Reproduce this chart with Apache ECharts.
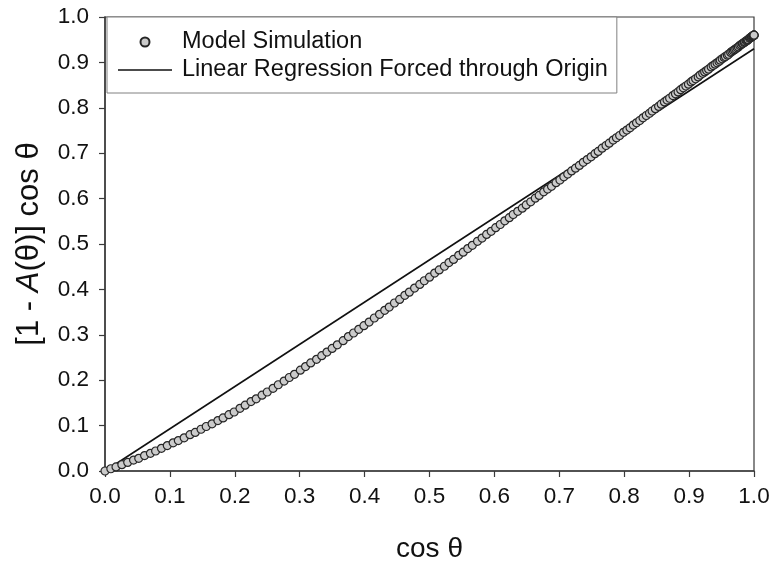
<!DOCTYPE html>
<html>
<head>
<meta charset="utf-8">
<script src="https://cdn.jsdelivr.net/npm/echarts@6/dist/echarts.min.js"></script>
<style>
  html, body { margin: 0; padding: 0; background: #fff; }
  #chart { width: 770px; height: 562px; }
</style>
</head>
<body>
<div id="chart"></div>
<script>
// cos θ for each simulated incidence angle (0.5° steps)
const cosTheta = [
  0.000, 0.009, 0.017, 0.026, 0.035, 0.044, 0.052, 0.061, 0.070, 0.078,
  0.087, 0.096, 0.105, 0.113, 0.122, 0.131, 0.139, 0.148, 0.156, 0.165,
  0.174, 0.182, 0.191, 0.199, 0.208, 0.216, 0.225, 0.233, 0.242, 0.250,
  0.259, 0.267, 0.276, 0.284, 0.292, 0.301, 0.309, 0.317, 0.326, 0.334,
  0.342, 0.350, 0.358, 0.367, 0.375, 0.383, 0.391, 0.399, 0.407, 0.415,
  0.423, 0.431, 0.438, 0.446, 0.454, 0.462, 0.469, 0.477, 0.485, 0.492,
  0.500, 0.508, 0.515, 0.523, 0.530, 0.537, 0.545, 0.552, 0.559, 0.566,
  0.574, 0.581, 0.588, 0.595, 0.602, 0.609, 0.616, 0.623, 0.629, 0.636,
  0.643, 0.649, 0.656, 0.663, 0.669, 0.676, 0.682, 0.688, 0.695, 0.701,
  0.707, 0.713, 0.719, 0.725, 0.731, 0.737, 0.743, 0.749, 0.755, 0.760,
  0.766, 0.772, 0.777, 0.783, 0.788, 0.793, 0.799, 0.804, 0.809, 0.814,
  0.819, 0.824, 0.829, 0.834, 0.839, 0.843, 0.848, 0.853, 0.857, 0.862,
  0.866, 0.870, 0.875, 0.879, 0.883, 0.887, 0.891, 0.895, 0.899, 0.903,
  0.906, 0.910, 0.914, 0.917, 0.921, 0.924, 0.927, 0.930, 0.934, 0.937,
  0.940, 0.943, 0.946, 0.948, 0.951, 0.954, 0.956, 0.959, 0.961, 0.964,
  0.966, 0.968, 0.970, 0.972, 0.974, 0.976, 0.978, 0.980, 0.982, 0.983,
  0.985, 0.986, 0.988, 0.989, 0.990, 0.991, 0.993, 0.994, 0.995, 0.995,
  0.996, 0.997, 0.998, 0.998, 0.999, 0.999, 0.999, 1.000, 1.000, 1.000,
  1.000
];

// simulated [1 - A(θ)] cos θ at the same angles
const modelValues = [
  0.000, 0.005, 0.009, 0.014, 0.019, 0.024, 0.028, 0.034, 0.039, 0.044,
  0.050, 0.056, 0.062, 0.067, 0.073, 0.080, 0.085, 0.092, 0.098, 0.104,
  0.111, 0.117, 0.124, 0.130, 0.138, 0.145, 0.153, 0.159, 0.167, 0.174,
  0.182, 0.190, 0.198, 0.206, 0.213, 0.222, 0.230, 0.238, 0.246, 0.254,
  0.262, 0.270, 0.278, 0.287, 0.296, 0.304, 0.312, 0.320, 0.328, 0.337,
  0.345, 0.354, 0.361, 0.370, 0.378, 0.387, 0.394, 0.403, 0.411, 0.419,
  0.427, 0.436, 0.443, 0.451, 0.459, 0.466, 0.475, 0.482, 0.490, 0.497,
  0.506, 0.513, 0.521, 0.528, 0.536, 0.543, 0.551, 0.558, 0.565, 0.572,
  0.579, 0.586, 0.593, 0.601, 0.607, 0.615, 0.621, 0.627, 0.635, 0.641,
  0.648, 0.654, 0.661, 0.667, 0.673, 0.680, 0.686, 0.692, 0.699, 0.704,
  0.711, 0.717, 0.722, 0.729, 0.734, 0.739, 0.746, 0.751, 0.756, 0.762,
  0.767, 0.772, 0.778, 0.783, 0.788, 0.793, 0.798, 0.803, 0.808, 0.813,
  0.817, 0.821, 0.827, 0.831, 0.835, 0.840, 0.844, 0.848, 0.852, 0.857,
  0.860, 0.864, 0.868, 0.872, 0.876, 0.879, 0.882, 0.885, 0.890, 0.893,
  0.896, 0.899, 0.902, 0.905, 0.908, 0.911, 0.913, 0.916, 0.918, 0.922,
  0.924, 0.926, 0.928, 0.930, 0.932, 0.934, 0.937, 0.939, 0.941, 0.942,
  0.944, 0.945, 0.947, 0.948, 0.949, 0.950, 0.953, 0.954, 0.955, 0.955,
  0.956, 0.957, 0.958, 0.958, 0.959, 0.959, 0.959, 0.960, 0.960, 0.960,
  0.960
];

// regression through the origin: endpoints of the fitted line
const fitX = [0.0, 1.0];
const fitY = [0.0, 0.93];

// axis ticks
const tickValues = [0.0, 0.1, 0.2, 0.3, 0.4, 0.5, 0.6, 0.7, 0.8, 0.9, 1.0];

const seriesNames = ['Model Simulation', 'Linear Regression Forced through Origin'];

const FONT = '"Liberation Sans", Arial, sans-serif';
const AXIS_COLOR = '#3a3a3a';

const simPoints = cosTheta.map((x, i) => [x, modelValues[i]]);
const fitPoints = fitX.map((x, i) => [x, fitY[i]]);

const chart = echarts.init(document.getElementById('chart'), null, { renderer: 'canvas' });

const axisCommon = {
  type: 'value',
  min: tickValues[0],
  max: tickValues[tickValues.length - 1],
  interval: 0.1,
  axisLine: { show: true, lineStyle: { color: AXIS_COLOR, width: 1.5 } },
  axisTick: { show: true, inside: false, length: 6, lineStyle: { color: AXIS_COLOR, width: 1.2 } },
  splitLine: { show: false },
  axisLabel: {
    color: '#111',
    fontFamily: FONT,
    fontSize: 22.5,
    formatter: v => v.toFixed(1)
  },
  nameLocation: 'middle',
  nameTextStyle: { color: '#111', fontFamily: FONT, fontSize: 28 }
};

chart.setOption({
  backgroundColor: '#fff',
  animation: false,
  grid: {
    left: 105, right: 16, top: 17, bottom: 91,
    show: true, borderColor: AXIS_COLOR, borderWidth: 1.2,
    containLabel: false,
    outerBoundsMode: 'none'
  },
  legend: {
    data: [
      { name: seriesNames[0], icon: 'circle' },
      { name: seriesNames[1], icon: 'path://M0,0 L54,0 L54,1.6 L0,1.6 Z' }
    ],
    orient: 'vertical',
    left: 107,
    top: 17,
    itemWidth: 54,
    itemHeight: 9,
    itemGap: 4,
    padding: [13, 9, 11, 11],
    backgroundColor: '#fff',
    borderColor: '#808080',
    borderWidth: 1,
    borderRadius: 0,
    selectedMode: false,
    textStyle: { color: '#111', fontFamily: FONT, fontSize: 23.5, lineHeight: 24, padding: [0, 0, 0, 5] }
  },
  xAxis: Object.assign({}, axisCommon, {
    name: 'cos θ',
    nameGap: 64,
    axisLabel: Object.assign({}, axisCommon.axisLabel, { margin: 14 })
  }),
  yAxis: Object.assign({}, axisCommon, {
    name: '[1 - {i|A}(θ)] cos θ',
    nameGap: 60,
    nameRotate: 90,
    nameTextStyle: Object.assign({}, axisCommon.nameTextStyle, {
      fontSize: 31,
      rich: { i: { fontStyle: 'italic', fontFamily: FONT, fontSize: 31, color: '#111' } }
    }),
    axisLabel: Object.assign({}, axisCommon.axisLabel, { margin: 16 })
  }),
  series: [
    {
      name: seriesNames[0],
      type: 'scatter',
      data: simPoints,
      symbol: 'circle',
      symbolSize: 8,
      clip: false,
      z: 3,
      itemStyle: { color: '#cbcbcb', borderColor: '#262626', borderWidth: 1.2, opacity: 1 }
    },
    {
      name: seriesNames[1],
      type: 'line',
      data: fitPoints,
      symbol: 'none',
      z: 2,
      lineStyle: { color: '#111', width: 1.6 },
      itemStyle: { color: '#111' }
    }
  ]
});
</script>
</body>
</html>
